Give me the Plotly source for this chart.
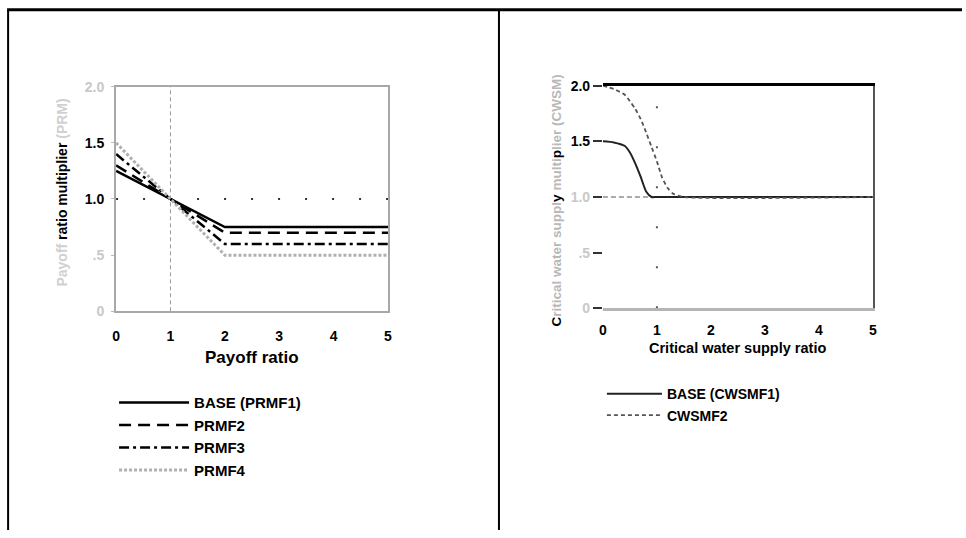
import plotly.graph_objects as go

# ---------------- data ----------------
# Left panel: payoff ratio multiplier functions
payoff_x = [0, 1, 2, 5]
prmf1 = [1.25, 1.0, 0.75, 0.75]
prmf2 = [1.30, 1.0, 0.70, 0.70]
prmf3 = [1.40, 1.0, 0.60, 0.60]
prmf4 = [1.50, 1.0, 0.50, 0.50]
left_names = ["BASE (PRMF1)", "PRMF2", "PRMF3", "PRMF4"]

# Right panel: critical water supply multiplier functions
cws_x1 = [0, 0.2, 0.4, 0.5, 0.6, 0.7, 0.8, 0.9, 1.0, 5.0]
cwsmf1 = [1.50, 1.49, 1.46, 1.40, 1.30, 1.18, 1.05, 1.0, 1.0, 1.0]
cws_x2 = [0, 0.2, 0.4, 0.5, 0.6, 0.7, 0.8, 0.9, 1.0, 1.1, 1.2, 1.3, 1.5, 5.0]
cwsmf2 = [2.00, 1.97, 1.92, 1.86, 1.79, 1.70, 1.58, 1.45, 1.32, 1.17, 1.08, 1.03, 1.0, 1.0]
right_names = ["BASE (CWSMF1)", "CWSMF2"]

x_ticks = [0, 1, 2, 3, 4, 5]
y_ticks = [0, 0.5, 1.0, 1.5, 2.0]

FONT = "Liberation Sans, Arial, sans-serif"
W, H = 966, 538

# layout helpers: target pixel positions -> paper fractions
def px_x(p):
    p = (p - 3.9) / 0.992
    return p / W

def px_y(p):
    p = (p - 7.25) / 0.9716
    return 1 - p / H

fig = go.Figure()

# left traces
styles_left = [
    dict(color="black", width=2.5, dash="solid"),
    dict(color="black", width=2.5, dash="12px,7px"),
    dict(color="black", width=2.5, dash="10px,4px,3px,4px"),
    dict(color="#b0b0b0", width=3, dash="3px,2px"),
]
for name, ys, st in zip(left_names, [prmf1, prmf2, prmf3, prmf4], styles_left):
    fig.add_trace(go.Scatter(x=payoff_x, y=ys, mode="lines", name=name,
                             line=st, xaxis="x", yaxis="y", legend="legend"))

# right traces
fig.add_trace(go.Scatter(x=cws_x1, y=cwsmf1, mode="lines", name=right_names[0],
                         line=dict(color="#222", width=2, shape="spline", smoothing=0.6),
                         xaxis="x2", yaxis="y2", legend="legend2"))
fig.add_trace(go.Scatter(x=cws_x2, y=cwsmf2, mode="lines", name=right_names[1],
                         line=dict(color="#555", width=1.8, dash="4px,3px", shape="spline", smoothing=0.6),
                         xaxis="x2", yaxis="y2", legend="legend2"))

faded = "#c8c8c8"
left_ytext = [f"<span style='color:{faded}'>0</span>", f"<span style='color:{faded}'>.5</span>",
              "1.0", "1.5", f"<span style='color:{faded}'>2.0</span>"]
right_ytext = [f"<span style='color:{faded}'>0</span>", f"<span style='color:{faded}'>.5</span>",
               f"<span style='color:{faded}'>1.0</span>", "1.5", "2.0"]

tickfont_l = dict(family=FONT, size=14, color="black", weight="bold")
tickfont_r = dict(family=FONT, size=14, color="black", weight="bold")

fig.update_layout(
    width=W, height=H,
    margin=dict(l=0, r=0, t=0, b=0),
    paper_bgcolor="white", plot_bgcolor="white",
    showlegend=True,
    xaxis=dict(domain=[px_x(116), px_x(388)], range=[0, 5], tickvals=x_ticks,
               showgrid=False, zeroline=False, showline=True, linecolor="#a8a8a8",
               linewidth=2, mirror=True, ticks="", tickfont=tickfont_l,
               ticklabelstandoff=11, anchor="y"),
    yaxis=dict(domain=[px_y(311), px_y(86)], range=[0, 2], tickvals=y_ticks,
               ticktext=left_ytext, showgrid=False, zeroline=False, showline=True,
               linecolor="#a8a8a8", linewidth=2, mirror=True, ticks="outside",
               ticklen=3, tickcolor="#bbb", tickfont=tickfont_l, ticklabelstandoff=4,
               anchor="x"),
    xaxis2=dict(domain=[px_x(603), px_x(873)], range=[0, 5], tickvals=x_ticks,
                showgrid=False, zeroline=False, showline=True, linecolor="#b5b5b5",
                linewidth=3, ticks="", tickfont=tickfont_r, ticklabelstandoff=7,
                anchor="y2"),
    yaxis2=dict(domain=[px_y(308), px_y(85)], range=[0, 2], tickvals=y_ticks,
                ticktext=right_ytext, showgrid=False, zeroline=False, showline=False,
                ticks="outside", ticklen=9, tickcolor="#333", tickwidth=2,
                tickfont=tickfont_r, anchor="x2"),
    # top frame line (black) and right frame line for right panel
    xaxis3=dict(overlaying="x2", side="top", range=[0, 5], anchor="y2",
                showline=True, linecolor="black", linewidth=3, showticklabels=False,
                ticks="", showgrid=False, zeroline=False, domain=[px_x(603), px_x(873)]),
    yaxis3=dict(overlaying="y2", side="right", range=[0, 2], anchor="x2",
                showline=True, linecolor="#555", linewidth=2, showticklabels=False,
                ticks="", showgrid=False, zeroline=False),
    legend=dict(x=px_x(114), y=px_y(386), xanchor="left", yanchor="top",
                font=dict(family=FONT, size=15, color="black", weight="bold"),
                itemwidth=70, bgcolor="rgba(0,0,0,0)", tracegroupgap=0),
    legend2=dict(x=px_x(602), y=px_y(378), xanchor="left", yanchor="top",
                 font=dict(family=FONT, size=14, color="black", weight="bold"),
                 itemwidth=55, bgcolor="rgba(0,0,0,0)", tracegroupgap=0),
)

# dummy invisible trace to activate overlay axes
fig.add_trace(go.Scatter(x=[None], y=[None], xaxis="x3", yaxis="y3", showlegend=False,
                         hoverinfo="skip"))

# reference lines
fig.add_hline(y=1.0, line=dict(color="#333", width=2, dash="2px,25px"), xref="x", yref="y",
              layer="below")
fig.add_shape(type="line", xref="x", yref="y domain", x0=1, x1=1, y0=0, y1=1,
              line=dict(color="#999", width=1, dash="4px,3px"), layer="below")
fig.add_shape(type="line", xref="x2", yref="y2 domain", x0=1, x1=1, y0=0, y1=1,
              line=dict(color="#555", width=2, dash="2px,38px"), layer="below")
fig.add_shape(type="line", xref="x2 domain", yref="y2", x0=0, x1=1, y0=1, y1=1,
              line=dict(color="#aaa", width=2, dash="5px,3px"), layer="below")

# axis titles
def ann(text, x, y, size, angle=0):
    fig.add_annotation(text=text, x=px_x(x), y=px_y(y), xref="paper", yref="paper",
                       xanchor="center", yanchor="middle", textangle=angle, showarrow=False,
                       font=dict(family=FONT, size=size, color="black", weight="bold"))

ann("Payoff ratio", 252, 357, 17)
ann("Critical water supply ratio", 738, 348, 14.5)
ann("<span style='color:#d0d0d0'>Payoff </span>ratio multiplier<span style='color:#d0d0d0'> (PRM)</span>",
    62, 192, 14, -90)
ann("C<span style='color:#b8b8b8'>ritical water suppl</span>y<span style='color:#b8b8b8'> multi</span>p<span style='color:#b8b8b8'>lier (CWSM)</span>",
    557, 200, 13.5, -90)

# table frame
fig.add_shape(type="line", xref="paper", yref="paper", x0=px_x(7), x1=1, y0=px_y(9), y1=px_y(9),
              line=dict(color="black", width=3))
fig.add_shape(type="line", xref="paper", yref="paper", x0=px_x(8), x1=px_x(8), y0=px_y(9), y1=0,
              line=dict(color="black", width=2))
fig.add_shape(type="line", xref="paper", yref="paper", x0=px_x(499), x1=px_x(499), y0=px_y(9), y1=0,
              line=dict(color="black", width=2))

fig.write_html("out.html")
